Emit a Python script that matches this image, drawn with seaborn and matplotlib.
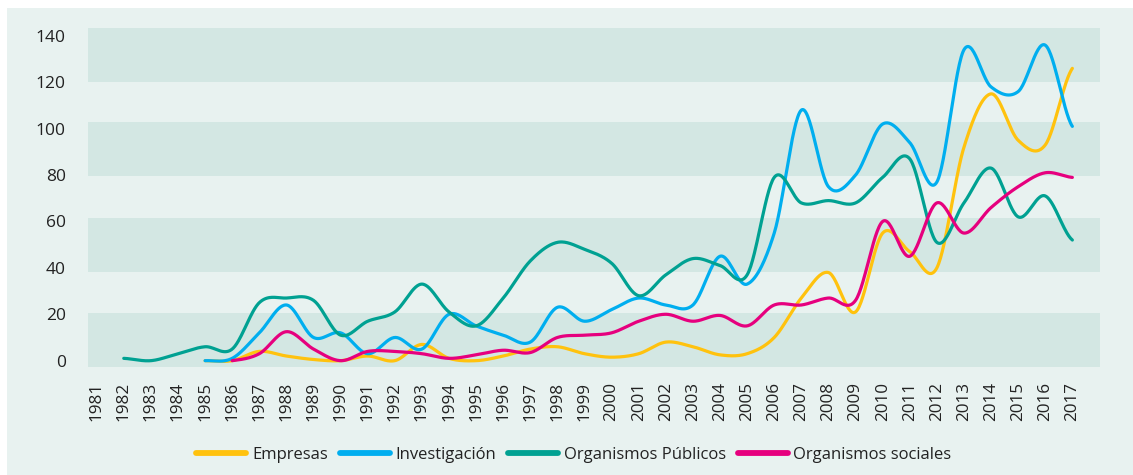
import numpy as np
import pandas as pd
import matplotlib
matplotlib.use("Agg")
import matplotlib.pyplot as plt
from matplotlib.patches import Rectangle
from matplotlib.lines import Line2D
import seaborn as sns

# ---------------- data ----------------
years = list(range(1981, 2018))

emp_years = list(range(1985, 2018))
empresas = [0, 0, 4, 2, 0.5, 0, 2, 0, 7, 1, 0, 2, 5, 6, 3, 1.5, 3, 8, 6, 2.5,
            3, 10, 27, 38, 21, 55, 47, 40, 92, 115, 95, 93, 126]

inv_years = list(range(1985, 2018))
investigacion = [0, 1, 12, 24, 10, 12, 3, 10, 5, 20, 15, 11, 8, 23, 17, 22,
                 27, 24, 24, 45, 33, 55, 108, 75, 80, 102, 94, 77, 134, 118,
                 116, 136, 101]

pub_years = list(range(1982, 2018))
publicos = [1, 0, 3, 6, 5, 25, 27, 26, 11, 17, 21, 33, 21, 15, 27, 43, 51,
            48, 42, 28, 37, 44, 41, 37, 79, 68, 69, 68, 79, 87, 51, 68, 83,
            62, 71, 52]

soc_years = list(range(1986, 2018))
sociales = [0, 3, 12.5, 5, 0, 4, 4, 3, 1, 2.5, 4.5, 3.5, 10, 11, 12, 17, 20,
            17, 19.5, 15, 24, 24, 27, 26, 60, 45, 68, 55, 66, 75, 81, 79]

series_names = ["Empresas", "Investigación", "Organismos Públicos",
                "Organismos sociales"]
colors = ["#FFC20E", "#00AEEF", "#00A192", "#E6007E"]

y_ticks = [0, 20, 40, 60, 80, 100, 120, 140]

# ---------------- smoothing (render only) ----------------
def smooth(xs, ys, n=30):
    xs = np.asarray(xs, float)
    ys = np.asarray(ys, float)
    p = np.concatenate([[ys[0]], ys, [ys[-1]]])
    out_x, out_y = [], []
    t = np.linspace(0, 1, n, endpoint=False)
    for i in range(len(ys) - 1):
        p0, p1, p2, p3 = p[i], p[i + 1], p[i + 2], p[i + 3]
        yy = 0.5 * (2 * p1 + (-p0 + p2) * t
                    + (2 * p0 - 5 * p1 + 4 * p2 - p3) * t ** 2
                    + (-p0 + 3 * p1 - 3 * p2 + p3) * t ** 3)
        out_x.extend(xs[i] + t * (xs[i + 1] - xs[i]))
        out_y.extend(yy)
    out_x.append(xs[-1])
    out_y.append(ys[-1])
    return np.array(out_x), np.array(out_y)

frames = []
for name, xs, ys in zip(series_names,
                        [emp_years, inv_years, pub_years, soc_years],
                        [empresas, investigacion, publicos, sociales]):
    sx, sy = smooth(xs, ys)
    frames.append(pd.DataFrame({"year": sx, "value": sy, "serie": name}))
df = pd.concat(frames, ignore_index=True)

# ---------------- figure ----------------
sns.set_style("white")
plt.rcParams["font.family"] = ["Open Sans", "DejaVu Sans"]

W, H = 1133, 475
fig = plt.figure(figsize=(W / 100, H / 100), dpi=100, facecolor="white")
bg = "#E8F2F0"
band = "#D3E7E3"
fig.patches.append(Rectangle((7 / W, 0), 1 - 7 / W, 1 - 8 / H,
                             transform=fig.transFigure, facecolor=bg,
                             edgecolor="none", zorder=-10))

ax = fig.add_axes([88 / W, 1 - 366.7 / H, (1100 - 88) / W, (366.7 - 28) / H])
ax.set_facecolor(bg)

for lo, hi in [(-2.6, 20.4), (38.4, 61.5), (79.7, 102.9), (120.3, 143.4)]:
    ax.axhspan(lo, hi, color=band, lw=0, zorder=0)

sns.lineplot(data=df, x="year", y="value", hue="serie",
             hue_order=series_names, palette=colors, estimator=None,
             sort=False, linewidth=2.3, ax=ax, legend=False, zorder=3)
for line in ax.get_lines():
    line.set_solid_capstyle("round")

ax.set_xlim(1980.68, 2018.02)
ax.set_ylim(-2.6, 143.4)
ax.set_xticks(years)
ax.set_xticklabels([str(y) for y in years], rotation=90, fontsize=12.3,
                   color="#222222", va="top")
ax.set_yticks(y_ticks)
ax.set_yticklabels([str(v) for v in y_ticks], fontsize=12.5, color="#222222")
ax.tick_params(axis="x", length=0, pad=11)
ax.tick_params(axis="y", length=0, pad=16)
for s in ax.spines.values():
    s.set_visible(False)
ax.set_xlabel("")
ax.set_ylabel("")

handles = [Line2D([0], [0], color=c, lw=4.2, solid_capstyle="round")
           for c in colors]
fig.legend(handles, series_names, loc="center", ncol=4,
           bbox_to_anchor=(574 / W, 1 - 455 / H), frameon=False,
           fontsize=12.0, handlelength=3.0, handletextpad=0.35,
           columnspacing=0.7, labelcolor="#222222")

fig.savefig("out.png", dpi=100, facecolor=fig.get_facecolor())
